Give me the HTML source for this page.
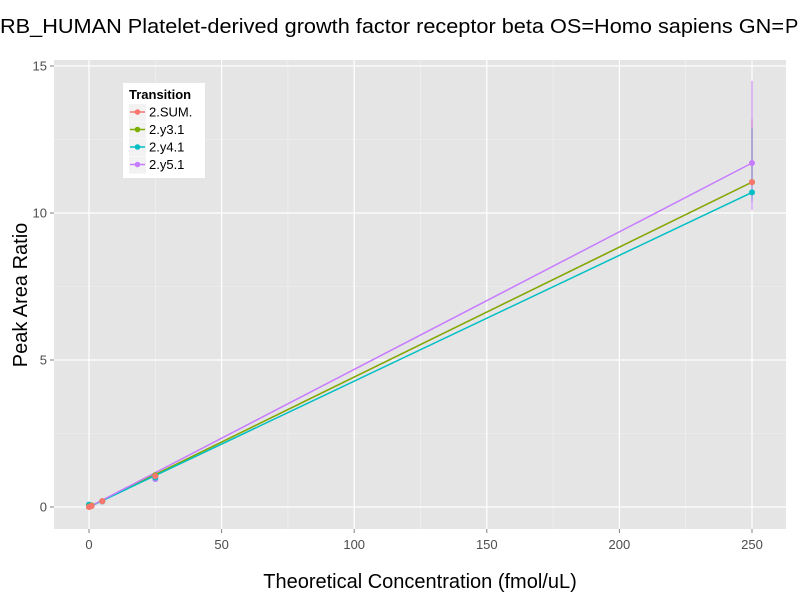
<!DOCTYPE html>
<html><head><meta charset="utf-8"><style>
body{margin:0;background:#fff;}
svg{display:block;font-family:"Liberation Sans",Arial,sans-serif;}
</style></head><body>
<svg id="chart" width="800" height="600">
<g>
<text x="0" y="33" font-size="20" fill="#000" textLength="784" lengthAdjust="spacingAndGlyphs">RB_HUMAN Platelet-derived growth factor receptor beta OS=Homo sapiens GN=</text>
<text x="785" y="33" font-size="20" fill="#000">PDGFRB</text>
</g>
<rect x="54" y="60" width="732" height="469" fill="#e5e5e5"/>
<g id="grid"></g>
<g id="marks"></g>
<g id="axes"></g>
<text x="420" y="588" text-anchor="middle" font-size="20">Theoretical Concentration (fmol/uL)</text>
<text transform="translate(27,295) rotate(-90)" text-anchor="middle" font-size="20">Peak Area Ratio</text>
<g id="legend">
<rect x="123" y="83" width="82" height="95" fill="#fff"/>
<text x="129" y="99" font-size="13" font-weight="bold">Transition</text>
</g>
</svg>
<script>
const series = ["2.SUM.","2.y3.1","2.y4.1","2.y5.1"];
const colors = ["#F8766D","#7CAE00","#00BFC4","#C77CFF"];
const concentrations = [0,0.5,1,5,25,250];
const sumValues = [0,0.02,0.04,0.2,1.05,11.05];
const y3Values = [0.01,0.02,0.05,0.2,1.08,11.05];
const y4Values = [0.08,0.03,0.05,0.19,1.0,10.7];
const y5Values = [0.01,0.02,0.04,0.19,0.95,11.7];
const errLow = [11.0,11.0,10.4,10.1];
const errHigh = [13.2,12.9,12.9,14.5];
const slopes = [0.0442,0.0442,0.0428,0.0468];
const xTicks = [0,50,100,150,200,250];
const yTicks = [0,5,10,15];
const allValues = [sumValues,y3Values,y4Values,y5Values];
const NS="http://www.w3.org/2000/svg";
const xs=v=>89+v*(752-89)/250;
const ys=v=>507-v*(507-66)/15;
function mk(t,a,p){const e=document.createElementNS(NS,t);for(const k in a)e.setAttribute(k,a[k]);p.appendChild(e);return e;}
const grid=document.getElementById('grid'),axes=document.getElementById('axes'),marks=document.getElementById('marks');
[25,75,125,175,225].forEach(v=>{const l=mk('line',{x1:xs(v),x2:xs(v),y1:60,y2:529,stroke:'#f2f2f2','stroke-width':0.6},grid);

});
[2.5,7.5,12.5].forEach(v=>{const l=mk('line',{x1:54,x2:786,y1:ys(v),y2:ys(v),stroke:'#f2f2f2','stroke-width':0.6},grid);

});
xTicks.forEach(v=>{const l=mk('line',{x1:xs(v),x2:xs(v),y1:60,y2:529,stroke:'#fff','stroke-width':1.2},grid);


mk('line',{x1:xs(v),x2:xs(v),y1:529,y2:533,stroke:'#7f7f7f'},axes);
const t=mk('text',{x:xs(v),y:549,'text-anchor':'middle','font-size':13,fill:'#4d4d4d'},axes);t.textContent=v;

});
yTicks.forEach(v=>{const l=mk('line',{x1:54,x2:786,y1:ys(v),y2:ys(v),stroke:'#fff','stroke-width':1.2},grid);


mk('line',{x1:50,x2:54,y1:ys(v),y2:ys(v),stroke:'#7f7f7f'},axes);
const t=mk('text',{x:47,y:ys(v)+4.5,'text-anchor':'end','font-size':13,fill:'#4d4d4d'},axes);t.textContent=v;

});
series.forEach((s,i)=>{
const eb=mk('line',{x1:xs(250),x2:xs(250),y1:ys(errLow[i]),y2:ys(errHigh[i]),stroke:colors[i],'stroke-width':1.2,opacity:0.8},marks);


const ln=mk('line',{x1:xs(0),y1:ys(0),x2:xs(250),y2:ys(slopes[i]*250),stroke:colors[i],'stroke-width':1.5},marks);


});
[3,2,1,0].forEach(i=>{
concentrations.forEach((c,j)=>{const p=mk('circle',{cx:xs(c),cy:ys(allValues[i][j]),r:3,fill:colors[i]},marks);

});
});
series.forEach((s,i)=>{
const lg=document.getElementById('legend');
const y=112+i*17.5;
mk('rect',{x:129,y:y-8,width:17,height:17,fill:'#f2f2f2'},lg);
mk('line',{x1:130,x2:145,y1:y,y2:y,stroke:colors[i],'stroke-width':1.5},lg);
mk('circle',{cx:137.5,cy:y,r:2.8,fill:colors[i]},lg);
const t=mk('text',{x:149,y:y+4.5,'font-size':13},lg);t.textContent=s;


});
</script>
</body></html>
